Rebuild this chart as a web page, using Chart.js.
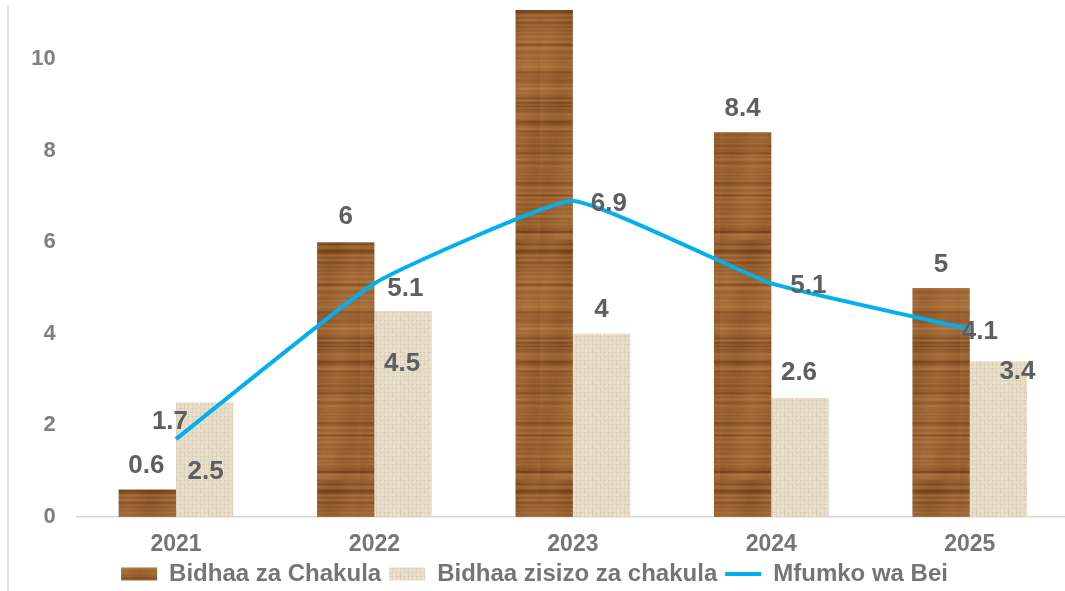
<!DOCTYPE html>
<html>
<head>
<meta charset="utf-8">
<script src="https://cdn.jsdelivr.net/npm/chart.js@4.4.1/dist/chart.umd.min.js"></script>
<style>
  html, body { margin: 0; padding: 0; background: #fff; overflow: hidden; }
  #wrap { position: relative; width: 1065px; height: 591px; overflow: hidden; }
  #edge { position: absolute; left: 7px; top: 5px; bottom: 0; width: 2px; background: #e2e2e2; }
  canvas { position: absolute; left: 0; top: 0; }
</style>
</head>
<body>
<div id="wrap">
  <div id="edge"></div>
  <canvas id="chart" width="1070" height="591"></canvas>
</div>
<script>
const years = ['2021', '2022', '2023', '2024', '2025'];
const foodValues = [0.6, 6, 11.5, 8.4, 5];
const nonFoodValues = [2.5, 4.5, 4, 2.6, 3.4];
const inflationValues = [1.7, 5.1, 6.9, 5.1, 4.1];
const yTicks = [0, 2, 4, 6, 8, 10];
const seriesNames = ['Bidhaa za Chakula', 'Bidhaa zisizo za chakula', 'Mfumko wa Bei'];

const FONT = "'Liberation Sans', Arial, sans-serif";

// seeded noise so the textures come out the same every run
function rng(seed) {
  let s = seed;
  return () => (s = (s * 16807) % 2147483647) / 2147483647;
}

function woodPattern(ctx) {
  const w = 60, h = 240;
  const c = document.createElement('canvas');
  c.width = w; c.height = h;
  const g = c.getContext('2d');
  const img = g.createImageData(w, h);
  const r = rng(11);
  let raw = [];
  for (let y = 0; y < h; y++) raw.push(r());
  for (let y = 0; y < h; y++) if (r() < 0.07) raw[y] = -0.5;
  // soften the grain a bit
  const rows = raw.map((v, y) => {
    const a = raw[(y + h - 1) % h], b = raw[(y + 1) % h];
    return 0.25 * a + 0.5 * v + 0.25 * b;
  });
  const dark = [104, 54, 18], light = [196, 138, 78];
  for (let y = 0; y < h; y++) {
    for (let x = 0; x < w; x++) {
      let t = 0.33 + 0.45 * rows[y] + 0.06 * Math.sin(x * 0.14 + y * 0.02) + 0.05 * (r() - 0.5);
      t = Math.max(0, Math.min(1, t));
      const i = (y * w + x) * 4;
      img.data[i] = dark[0] + (light[0] - dark[0]) * t;
      img.data[i + 1] = dark[1] + (light[1] - dark[1]) * t;
      img.data[i + 2] = dark[2] + (light[2] - dark[2]) * t;
      img.data[i + 3] = 255;
    }
  }
  g.putImageData(img, 0, 0);
  return ctx.createPattern(c, 'repeat');
}

function burlapPattern(ctx) {
  const w = 32, h = 32;
  const c = document.createElement('canvas');
  c.width = w; c.height = h;
  const g = c.getContext('2d');
  const img = g.createImageData(w, h);
  const r = rng(5);
  for (let y = 0; y < h; y++) {
    for (let x = 0; x < w; x++) {
      let v = 0;
      if (x % 4 === 0) v -= 9;
      if (y % 4 === 0) v -= 8;
      v += (r() - 0.5) * 12;
      const i = (y * w + x) * 4;
      img.data[i] = 232 + v;
      img.data[i + 1] = 222 + v;
      img.data[i + 2] = 202 + v;
      img.data[i + 3] = 255;
    }
  }
  g.putImageData(img, 0, 0);
  return ctx.createPattern(c, 'repeat');
}

// where each value label sits relative to its bar top / line point
const labelOffsets = [
  [[-1, -25], [0, -26], [0, -25], [0, -24], [0, -24]],
  [[1, 68], [-1, 52], [0, -25], [-1, -26], [19, 10]],
  [[-6, -18], [31, 4], [36, 2], [37, 1], [10, 2]]
];

const valueLabels = {
  id: 'valueLabels',
  afterDatasetsDraw(chart) {
    const { ctx, chartArea } = chart;
    ctx.save();
    ctx.font = 'bold 26px ' + FONT;
    ctx.fillStyle = '#5e5f61';
    ctx.textAlign = 'center';
    ctx.textBaseline = 'middle';
    chart.data.datasets.forEach((ds, di) => {
      chart.getDatasetMeta(di).data.forEach((el, i) => {
        if (el.y < chartArea.top) return;
        const [dx, dy] = labelOffsets[di][i];
        ctx.fillText(String(ds.data[i]), el.x + dx, el.y + dy + 1);
      });
    });
    ctx.restore();
  }
};

const canvas = document.getElementById('chart');
const ctx = canvas.getContext('2d');
const wood = woodPattern(ctx);
const burlap = burlapPattern(ctx);

Chart.defaults.font.family = FONT;

new Chart(ctx, {
  type: 'bar',
  data: {
    labels: years,
    datasets: [
      {
        label: seriesNames[0],
        data: foodValues,
        backgroundColor: wood,
        borderWidth: 0,
        order: 1
      },
      {
        label: seriesNames[1],
        data: nonFoodValues,
        backgroundColor: burlap,
        borderWidth: 0,
        order: 1
      },
      {
        type: 'line',
        label: seriesNames[2],
        data: inflationValues,
        borderColor: '#00b0f0',
        backgroundColor: '#00b0f0',
        borderWidth: 4,
        pointRadius: 0,
        tension: 0.12,
        order: 0
      }
    ]
  },
  options: {
    responsive: false,
    animation: false,
    categoryPercentage: 0.578,
    barPercentage: 1,
    layout: { padding: { top: 10, right: 1, left: 0, bottom: 0 } },
    plugins: {
      tooltip: { enabled: false },
      legend: {
        position: 'bottom',
        maxHeight: 37,
        labels: {
          sort: (a, b) => a.datasetIndex - b.datasetIndex,
          usePointStyle: true,
          pointStyleWidth: 36,
          boxHeight: 13,
          padding: 8,
          color: '#757575',
          font: { size: 24, weight: 'bold' },
          generateLabels(chart) {
            const items = Chart.defaults.plugins.legend.labels.generateLabels(chart);
            return items.map(it => {
              const isLine = it.datasetIndex === 2;
              it.pointStyle = isLine ? 'line' : 'rect';
              it.lineWidth = isLine ? 4 : 0;
              it.strokeStyle = '#00b0f0';
              return it;
            });
          }
        }
      }
    },
    scales: {
      x: {
        grid: { display: false, drawTicks: false },
        border: { display: true, color: '#d9d9d9', width: 1.5 },
        ticks: { color: '#757575', font: { size: 23, weight: 'bold' }, padding: 14 },
        afterFit: s => { s.height = 37; s.paddingLeft = 0; s.paddingRight = 0; }
      },
      y: {
        min: 0,
        max: 11.07,
        grid: { display: false, drawTicks: false },
        border: { display: false },
        ticks: { color: '#7f7f7f', font: { size: 22, weight: 'bold' }, padding: 21 },
        afterBuildTicks: s => { s.ticks = yTicks.map(v => ({ value: v })); },
        afterFit: s => { s.width = 76.75; s.paddingTop = 0; s.paddingBottom = 0; }
      }
    }
  },
  plugins: [valueLabels]
});
</script>
</body>
</html>
